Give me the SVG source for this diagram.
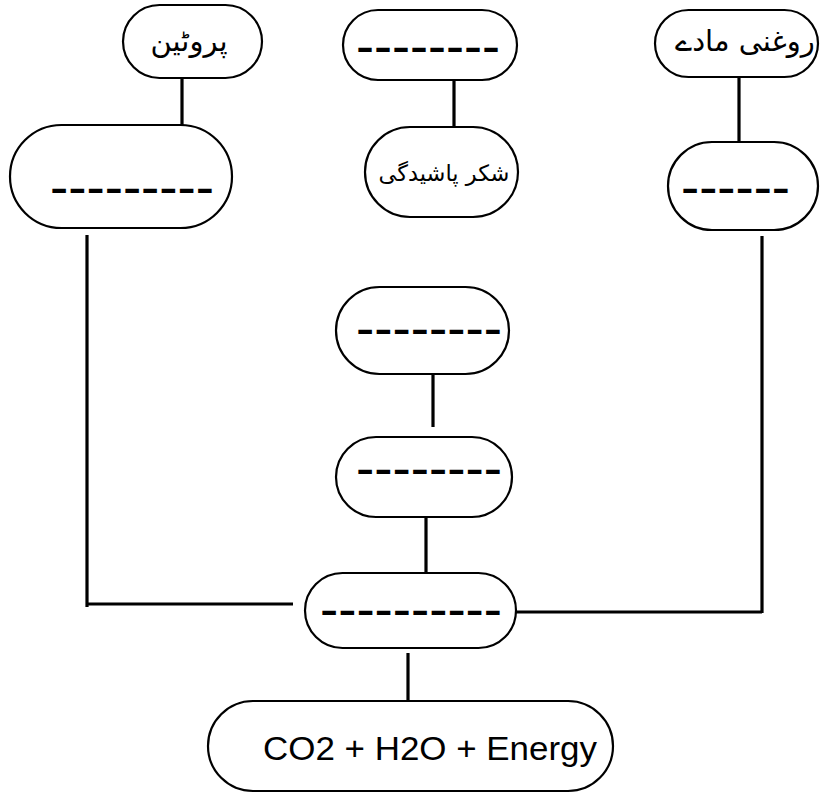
<svg xmlns="http://www.w3.org/2000/svg" width="824" height="794" viewBox="0 0 824 794">
<style>
.node{fill:#fff;stroke:#000;stroke-width:2.2}
.conn{fill:none;stroke:#000;stroke-width:3.2}
.ur{font-family:"DejaVu Sans",sans-serif;font-size:29px;fill:#000;text-anchor:middle}
.dash{font-family:"DejaVu Sans",sans-serif;font-weight:bold;font-size:30px;fill:#000}
.lat{font-family:"Liberation Sans",Arial,sans-serif;font-size:33px;fill:#000}
</style>
<rect width="824" height="794" fill="#fff"/>
<g id="connectors">
<path class="conn" d="M182,78 V125"/>
<path class="conn" d="M454,80 V127"/>
<path class="conn" d="M739,77 V145"/>
<path class="conn" d="M87,235 V607 M87,604 H293"/>
<path class="conn" d="M762,236 V613 M516,612 H762"/>
<path class="conn" d="M433,372 V427"/>
<path class="conn" d="M426,517 V575"/>
<path class="conn" d="M408,653 V706"/>
</g>
<g id="node-protein">
<rect class="node" x="123" y="5" width="139" height="73" rx="36.5"/>
<text class="ur" x="189" y="51" direction="rtl">پروٹین</text>
</g>
<g id="node-top-center">
<rect class="node" x="343" y="10" width="174" height="70" rx="35"/>
<text class="dash" x="356" y="59" textLength="144" lengthAdjust="spacingAndGlyphs">--------</text>
</g>
<g id="node-fats">
<rect class="node" x="655" y="10" width="163" height="67" rx="33.5"/>
<text class="ur" x="745" y="51" direction="rtl">روغنی مادے</text>
</g>
<g id="node-left">
<rect class="node" x="10" y="125" width="222" height="103" rx="51.5"/>
<text class="dash" x="50" y="200" textLength="164" lengthAdjust="spacingAndGlyphs">---------</text>
</g>
<g id="node-sugar">
<rect class="node" x="365" y="127" width="153" height="90" rx="45"/>
<text class="ur" x="444" y="181" direction="rtl" style="font-size:22.5px">شکر پاشیدگی</text>
</g>
<g id="node-right">
<rect class="node" x="668" y="142" width="150" height="88" rx="44"/>
<text class="dash" x="681" y="200" textLength="109" lengthAdjust="spacingAndGlyphs">------</text>
</g>
<g id="node-mid1">
<rect class="node" x="336" y="287" width="173" height="87" rx="43.5"/>
<text class="dash" x="356" y="341" textLength="146" lengthAdjust="spacingAndGlyphs">--------</text>
</g>
<g id="node-mid2">
<rect class="node" x="336" y="437" width="176" height="80" rx="40"/>
<text class="dash" x="356" y="481" textLength="146" lengthAdjust="spacingAndGlyphs">--------</text>
</g>
<g id="node-hub">
<rect class="node" x="305" y="573" width="211" height="75" rx="37.5"/>
<text class="dash" x="320" y="622" textLength="182" lengthAdjust="spacingAndGlyphs">----------</text>
</g>
<g id="node-result">
<rect class="node" x="208" y="701" width="405" height="90" rx="45"/>
<text class="lat" x="263" y="760" textLength="334" lengthAdjust="spacingAndGlyphs">CO2 + H2O + Energy</text>
</g>
</svg>
